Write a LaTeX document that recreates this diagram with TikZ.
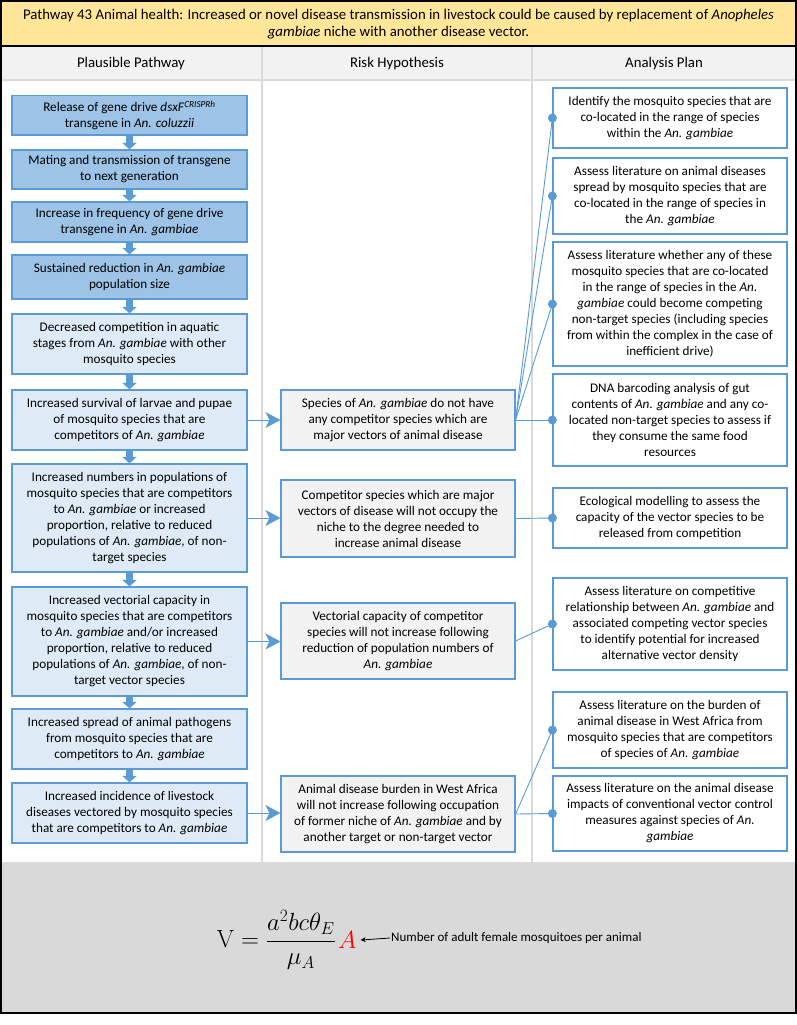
\documentclass[tikz,border=0pt]{standalone}
\usepackage[no-math]{fontspec}
\setmainfont{Carlito}
\usetikzlibrary{arrows.meta}
\definecolor{gold}{HTML}{FFE699}
\definecolor{hdr}{HTML}{F2F2F2}
\definecolor{sep}{HTML}{D9D9D9}
\definecolor{bl}{HTML}{5B9BD5}
\definecolor{darkb}{HTML}{9DC3E6}
\definecolor{lightb}{HTML}{DEEBF7}
\definecolor{midf}{HTML}{F2F2F2}
\definecolor{band}{HTML}{D9D9D9}
\begin{document}
\begin{tikzpicture}[x=1pt,y=-1pt,
 box/.style={draw=bl, line width=1.2pt, align=center, inner sep=0pt, font=\fontsize{13.2}{16}\selectfont},
 lbox/.style={box, minimum width=235pt, fill=lightb},
 dbox/.style={lbox, fill=darkb},
 mbox/.style={box, minimum width=234pt, fill=midf},
 rbox/.style={box, minimum width=234pt, fill=white},
 down/.style={draw=bl, line width=7.5pt, -{Triangle[length=6.5pt,width=14pt]}},
 harr/.style={draw=bl, line width=1pt, -{Stealth[length=15pt,width=16pt,inset=4pt]}},
 link/.style={draw=bl, line width=0.9pt},
 hd/.style={font=\fontsize{14.8}{17}\selectfont},
]
\useasboundingbox (0,0) rectangle (797,1025);
\fill[white] (0,0) rectangle (797,1025);
% bands
\fill[gold] (1,1) rectangle (796,46.5);
\fill[hdr] (1,46.5) rectangle (796,80);
\fill[band] (1,862) rectangle (796,1013);
\draw[sep, line width=1.5pt] (1,80) -- (796,80);
\draw[sep, line width=1.5pt] (262,46.5) -- (262,862);
\draw[sep, line width=1.5pt] (532,46.5) -- (532,862);
\draw[black, line width=2pt] (1,46.5) -- (796,46.5);
\draw[black, line width=2pt] (1,1) rectangle (796,1013);

% title and headers
\node[hd, align=center] (title) at (398.5,24.5) {Pathway 43 Animal health: Increased or novel disease transmission in livestock could be caused by replacement of \textit{Anopheles}\\ \textit{gambiae} niche with another disease vector.};
\node[hd] (hp) at (131,64) {Plausible Pathway};
\node[hd] (hr) at (397,64) {Risk Hypothesis};
\node[hd] (ha) at (664,64) {Analysis Plan};

% left column
\node[dbox, minimum height=39.5pt] (p1) at (129.5,115.25) {Release of gene drive \textit{dsxF}\textsuperscript{\textit{CRISPRh}}\\ transgene in \textit{An. coluzzii}};
\node[dbox, minimum height=39pt] (p2) at (129.5,169.5) {Mating and transmission of transgene\\ to next generation};
\node[dbox, minimum height=40pt] (p3) at (129.5,222) {Increase in frequency of gene drive\\ transgene in \textit{An. gambiae}};
\node[dbox, minimum height=44pt] (p4) at (129.5,277) {Sustained reduction in \textit{An. gambiae}\\ population size};
\node[lbox, minimum height=60pt] (p5) at (129.5,344) {Decreased competition in aquatic\\ stages from \textit{An. gambiae} with other\\ mosquito species};
\node[lbox, minimum height=60pt] (p6) at (129.5,420) {Increased survival of larvae and pupae\\ of mosquito species that are\\ competitors of \textit{An. gambiae}};
\node[lbox, minimum height=108pt] (p7) at (129.5,518) {Increased numbers in populations of\\ mosquito species that are competitors\\ to \textit{An. gambiae} or increased\\ proportion, relative to reduced\\ populations of \textit{An. gambiae}, of non-\\ target species};
\node[lbox, minimum height=109pt] (p8) at (129.5,641.5) {Increased vectorial capacity in\\ mosquito species that are competitors\\ to \textit{An. gambiae} and/or increased\\ proportion, relative to reduced\\ populations of \textit{An. gambiae}, of non-\\ target vector species};
\node[lbox, minimum height=60pt] (p9) at (129.5,739) {Increased spread of animal pathogens\\ from mosquito species that are\\ competitors to \textit{An. gambiae}};
\node[lbox, minimum height=60pt] (p10) at (129.5,813) {Increased incidence of livestock\\ diseases vectored by mosquito species\\ that are competitors to \textit{An. gambiae}};

\foreach \a/\b in {p1/p2,p2/p3,p3/p4,p4/p5,p5/p6,p6/p7,p7/p8,p8/p9,p9/p10}
  \draw[down] (\a.south) -- (\b.north);

% middle column
\node[mbox, minimum height=60pt] (h1) at (398,420) {Species of \textit{An. gambiae} do not have\\ any competitor species which are\\ major vectors of animal disease};
\node[mbox, minimum height=77pt] (h2) at (398,518.5) {Competitor species which are major\\ vectors of disease will not occupy the\\ niche to the degree needed to\\ increase animal disease};
\node[mbox, minimum height=76pt] (h3) at (398,641) {Vectorial capacity of competitor\\ species will not increase following\\ reduction of population numbers of\\ \textit{An. gambiae}};
\node[mbox, minimum height=76pt] (h4) at (398,814) {Animal disease burden in West Africa\\ will not increase following occupation\\ of former niche of \textit{An. gambiae} and by\\ another target or non-target vector};

\draw[harr] (p6.east) -- (p6.east -| h1.west);
\draw[harr] (p7.east) -- (p7.east -| h2.west);
\draw[harr] (p8.east) -- (p8.east -| h3.west);
\draw[harr] (p10.east) -- (p10.east -| h4.west);

% right column
\node[rbox, minimum height=60pt] (a1) at (670,118) {Identify the mosquito species that are\\ co-located in the range of species\\ within the \textit{An. gambiae}};
\node[rbox, minimum height=76pt] (a2) at (670,196) {Assess literature on animal diseases\\ spread by mosquito species that are\\ co-located in the range of species in\\ the \textit{An. gambiae}};
\node[rbox, minimum height=124pt] (a3) at (670,304) {Assess literature whether any of these\\ mosquito species that are co-located\\ in the range of species in the \textit{An.}\\ \textit{gambiae} could become competing\\ non-target species (including species\\ from within the complex in the case of\\ inefficient drive)};
\node[rbox, minimum height=92pt] (a4) at (670,420) {DNA barcoding analysis of gut\\ contents of \textit{An. gambiae} and any co-\\ located non-target species to assess if\\ they consume the same food\\ resources};
\node[rbox, minimum height=60pt] (a5) at (670,518) {Ecological modelling to assess the\\ capacity of the vector species to be\\ released from competition};
\node[rbox, minimum height=92pt] (a6) at (670,624) {Assess literature on competitive\\ relationship between \textit{An. gambiae} and\\ associated competing vector species\\ to identify potential for increased\\ alternative vector density};
\node[rbox, minimum height=76pt] (a7) at (670,730) {Assess literature on the burden of\\ animal disease in West Africa from\\ mosquito species that are competitors\\ of species of \textit{An. gambiae}};
\node[rbox, minimum height=75pt] (a8) at (670,813.5) {Assess literature on the animal disease\\ impacts of conventional vector control\\ measures against species of \textit{An.}\\ \textit{gambiae}};

\foreach \m/\r in {h1/a1,h1/a2,h1/a3,h1/a4,h2/a5,h3/a6,h4/a7,h4/a8}{
  \draw[link] (\m.east) -- (\r.west);
  \fill[bl] (\r.west) circle (4.5pt);
}

% formula
\node[font=\fontsize{26}{30}\selectfont, anchor=east, inner sep=1pt] (eq) at (337,940) {$\mathrm{V}=\displaystyle\frac{a^2bc\theta_E}{\mu_A}$};
\node[font=\fontsize{26}{30}\selectfont, text=red, anchor=west, inner sep=1pt] (A) at (337,940) {$A$};
\node[font=\fontsize{13}{15}\selectfont, anchor=west, inner sep=1pt] (lbl) at (390,938) {Number of adult female mosquitoes per animal};
\draw[line width=0.8pt, -{Stealth[length=5pt,width=5pt]}] (lbl.west) -- ([xshift=3pt]A.east);
\end{tikzpicture}
\end{document}
